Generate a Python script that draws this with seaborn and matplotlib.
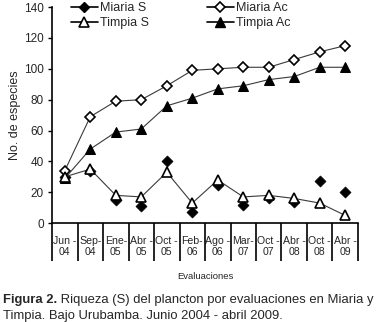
import matplotlib
matplotlib.use("Agg")
import matplotlib.pyplot as plt
from matplotlib.lines import Line2D
import seaborn as sns
import pandas as pd

fechas = ["Jun -\n04", "Sep-\n04", "Ene-\n05", "Abr -\n05", "Oct -\n05", "Feb-\n06",
          "Ago -\n06", "Mar-\n07", "Oct -\n07", "Abr -\n08", "Oct -\n08", "Abr -\n09"]
miaria_s = [30, 34, 15, 11, 40, 7, 25, 12, 16, 14, 27, 20]
timpia_s = [30, 35, 18, 17, 33, 13, 28, 17, 18, 16, 13, 5]
miaria_ac = [34, 69, 79, 80, 89, 99, 100, 101, 101, 106, 111, 115]
timpia_ac = [29, 48, 59, 61, 76, 81, 87, 89, 93, 95, 101, 101]

sns.set_style("white")
plt.rcParams['font.family'] = ['Liberation Sans', 'DejaVu Sans']

df = pd.DataFrame({"pos": range(len(fechas)), "miaria_s": miaria_s, "timpia_s": timpia_s,
                   "miaria_ac": miaria_ac, "timpia_ac": timpia_ac})

fig = plt.figure(figsize=(3.8, 3.22), dpi=100)
ax = fig.add_axes([0.137, 0.307, 0.805, 0.671])

lc = "#3a3a3a"
sns.lineplot(data=df, x="pos", y="miaria_ac", ax=ax, color=lc, lw=0.8, marker="D", ms=5.5,
             mfc="white", mec="black", mew=1.2)
sns.lineplot(data=df, x="pos", y="timpia_ac", ax=ax, color=lc, lw=0.8, marker="^", ms=7.5,
             mfc="black", mec="black")
sns.lineplot(data=df, x="pos", y="timpia_s", ax=ax, color=lc, lw=0.8, marker="^", ms=7.5,
             mfc="white", mec="black", mew=1.2)
sns.scatterplot(data=df, x="pos", y="miaria_s", ax=ax, marker="D", s=32, color="black",
                edgecolor="black", zorder=1)

ax.set_xlim(-0.5, len(fechas) - 0.5)
ax.set_ylim(0, 140)
ax.set_yticks(range(0, 141, 20))
ax.set_xticks(range(len(fechas)))
ax.set_xticklabels(fechas, fontsize=7.6, linespacing=1.15)
ax.set_xticks([i - 0.5 for i in range(len(fechas) + 1)], minor=True)
ax.tick_params(axis="x", which="major", bottom=True, length=0, pad=9)
ax.tick_params(axis="x", which="minor", bottom=True, length=27, width=1.2, direction="out",
               color="black")
ax.tick_params(axis="y", left=True, length=3, width=1, direction="out", color="black",
               labelsize=8.5, pad=3)
for s in ["top", "right"]:
    ax.spines[s].set_visible(False)
for s in ["left", "bottom"]:
    ax.spines[s].set_color("black")
    ax.spines[s].set_linewidth(1.2)

ax.set_xlabel("Evaluaciones", fontsize=6.8, labelpad=5)
ax.set_ylabel("No. de especies", fontsize=9, labelpad=2)

handles = [
    Line2D([], [], color="black", lw=1.2, marker="D", ms=5.5, mfc="black", mec="black"),
    Line2D([], [], color="black", lw=1.2, marker="^", ms=7, mfc="white", mec="black", mew=1.2),
    Line2D([], [], color="black", lw=1.2, marker="D", ms=5.5, mfc="white", mec="black", mew=1.2),
    Line2D([], [], color="black", lw=1.2, marker="^", ms=7, mfc="black", mec="black"),
]
labels = ["Miaria S", "Timpia S", "Miaria Ac", "Timpia Ac"]
ax.legend(handles, labels, ncol=2, loc="upper center", bbox_to_anchor=(0.42, 1.075),
          frameon=False, fontsize=9, handlelength=2.2, handletextpad=0.15,
          columnspacing=4.6, labelspacing=0.25)

t1 = fig.text(0.008, 0.058, "Figura 2.", fontsize=9.4, fontweight="bold", ha="left")
ax.annotate(" Riqueza (S) del plancton por evaluaciones en Miaria y", xy=(1, 0),
            xycoords=t1, va="bottom", ha="left", fontsize=9.4, annotation_clip=False)
fig.text(0.008, 0.01, "Timpia. Bajo Urubamba. Junio 2004 - abril 2009.", fontsize=9.4, ha="left")

fig.savefig("out.png", dpi=100)
